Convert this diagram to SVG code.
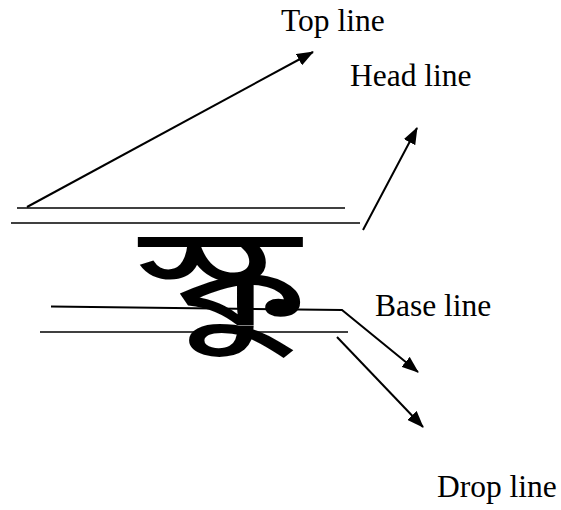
<svg xmlns="http://www.w3.org/2000/svg" width="561" height="510" viewBox="0 0 561 510">
<style>
.lbl{font-family:'Liberation Serif','Times New Roman',serif;font-size:31.5px;fill:#000}
.ln{stroke:#000;stroke-width:1.6;fill:none}
.ar{stroke:#000;stroke-width:2;fill:none;marker-end:url(#ah)}
.gl{font-family:'Noto Sans Bengali','Noto Serif Bengali','Lohit Bengali','Noto Sans',sans-serif;font-size:142px;fill:#000}
</style>
<defs>
<marker id="ah" markerUnits="userSpaceOnUse" markerWidth="17" markerHeight="13" refX="16" refY="6.5" orient="auto">
<path d="M0,0 L17,6.5 L0,13 z" fill="#000"/>
</marker>
</defs>
<rect width="561" height="510" fill="#fff"/>
<g id="connectors">
<line class="ln" x1="17" y1="208" x2="345" y2="208"/>
<line class="ln" x1="11" y1="223" x2="360" y2="223"/>
<line class="ln" x1="40" y1="332" x2="348" y2="332"/>
<polyline class="ar" points="51,306.5 342,310 418,372"/>
<line class="ar" x1="27" y1="207" x2="313" y2="52"/>
<line class="ar" x1="363" y1="230" x2="417" y2="128"/>
<line class="ar" x1="337" y1="337" x2="423" y2="427"/>
</g>
<g id="glyph">
<text class="gl" transform="translate(140,325) scale(1.52,1)">স্কু</text>
</g>
<g id="top-line"><text class="lbl" x="281" y="31">Top line</text></g>
<g id="head-line"><text class="lbl" x="350" y="86">Head line</text></g>
<g id="base-line"><text class="lbl" x="375" y="316">Base line</text></g>
<g id="drop-line"><text class="lbl" x="437" y="497">Drop line</text></g>
</svg>
